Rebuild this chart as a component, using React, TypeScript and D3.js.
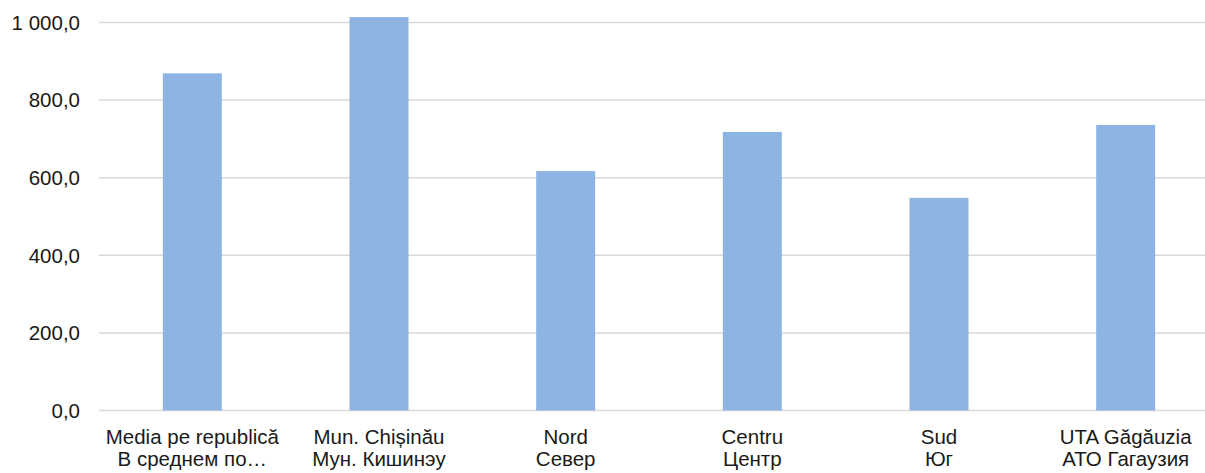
import React, { useRef, useEffect } from 'react';
import * as d3 from 'd3';

const labelsRo = ['Media pe republică', 'Mun. Chișinău', 'Nord', 'Centru', 'Sud', 'UTA Găgăuzia'];
const labelsRu = ['В среднем по…', 'Мун. Кишинэу', 'Север', 'Центр', 'Юг', 'АТО Гагаузия'];
const values = [869, 1014, 617, 718, 548, 736];
const yTicks = [0, 200, 400, 600, 800, 1000];

const W = 1205;
const H = 473;
const FONT = 'Liberation Sans, Arial, sans-serif';

const fmt = (v: number) => {
  const [i, d] = v.toFixed(1).split('.');
  return i.replace(/\B(?=(\d{3})+(?!\d))/g, ' ') + ',' + d;
};

export default function App() {
  const ref = useRef<SVGSVGElement | null>(null);

  useEffect(() => {
    if (!ref.current) return;
    const svg = d3.select(ref.current);
    svg.selectAll('*').remove();

    const x = d3.scaleBand<number>()
      .domain(d3.range(values.length))
      .range([99, 1219])
      .paddingInner(0.684)
      .paddingOuter(0.342);
    const y = d3.scaleLinear().domain([0, 1000]).range([410.5, 22.5]);

    // gridlines
    svg.append('g')
      .selectAll('line')
      .data(yTicks)
      .join('line')
      .attr('x1', 99)
      .attr('x2', W)
      .attr('y1', d => y(d))
      .attr('y2', d => y(d))
      .attr('stroke', '#d9d9d9')
      .attr('stroke-width', 1.5);

    // y labels
    svg.append('g')
      .selectAll('text')
      .data(yTicks)
      .join('text')
      .attr('x', 80)
      .attr('y', d => y(d))
      .attr('dy', '0.36em')
      .attr('text-anchor', 'end')
      .attr('font-family', FONT)
      .attr('font-size', 20.5)
      .attr('fill', '#1a1a1a')
      .text(d => fmt(d));

    // bars
    svg.append('g')
      .selectAll('rect')
      .data(values)
      .join('rect')
      .attr('x', (_, i) => x(i)!)
      .attr('width', x.bandwidth())
      .attr('y', d => y(d))
      .attr('height', d => y(0) - y(d))
      .attr('fill', '#8eb4e3');

    // category labels
    const lab = svg.append('g')
      .selectAll('text')
      .data(d3.range(values.length))
      .join('text')
      .attr('text-anchor', 'middle')
      .attr('font-family', FONT)
      .attr('font-size', 20.5)
      .attr('fill', '#1a1a1a');
    lab.append('tspan')
      .attr('x', i => x(i)! + x.bandwidth() / 2)
      .attr('y', 444)
      .text(i => labelsRo[i]);
    lab.append('tspan')
      .attr('x', i => x(i)! + x.bandwidth() / 2)
      .attr('y', 466)
      .text(i => labelsRu[i]);
  }, []);

  return (
    <svg
      ref={ref}
      width={W}
      height={H}
      style={{ position: 'absolute', left: 0, top: 0, background: '#fff' }}
    />
  );
}
